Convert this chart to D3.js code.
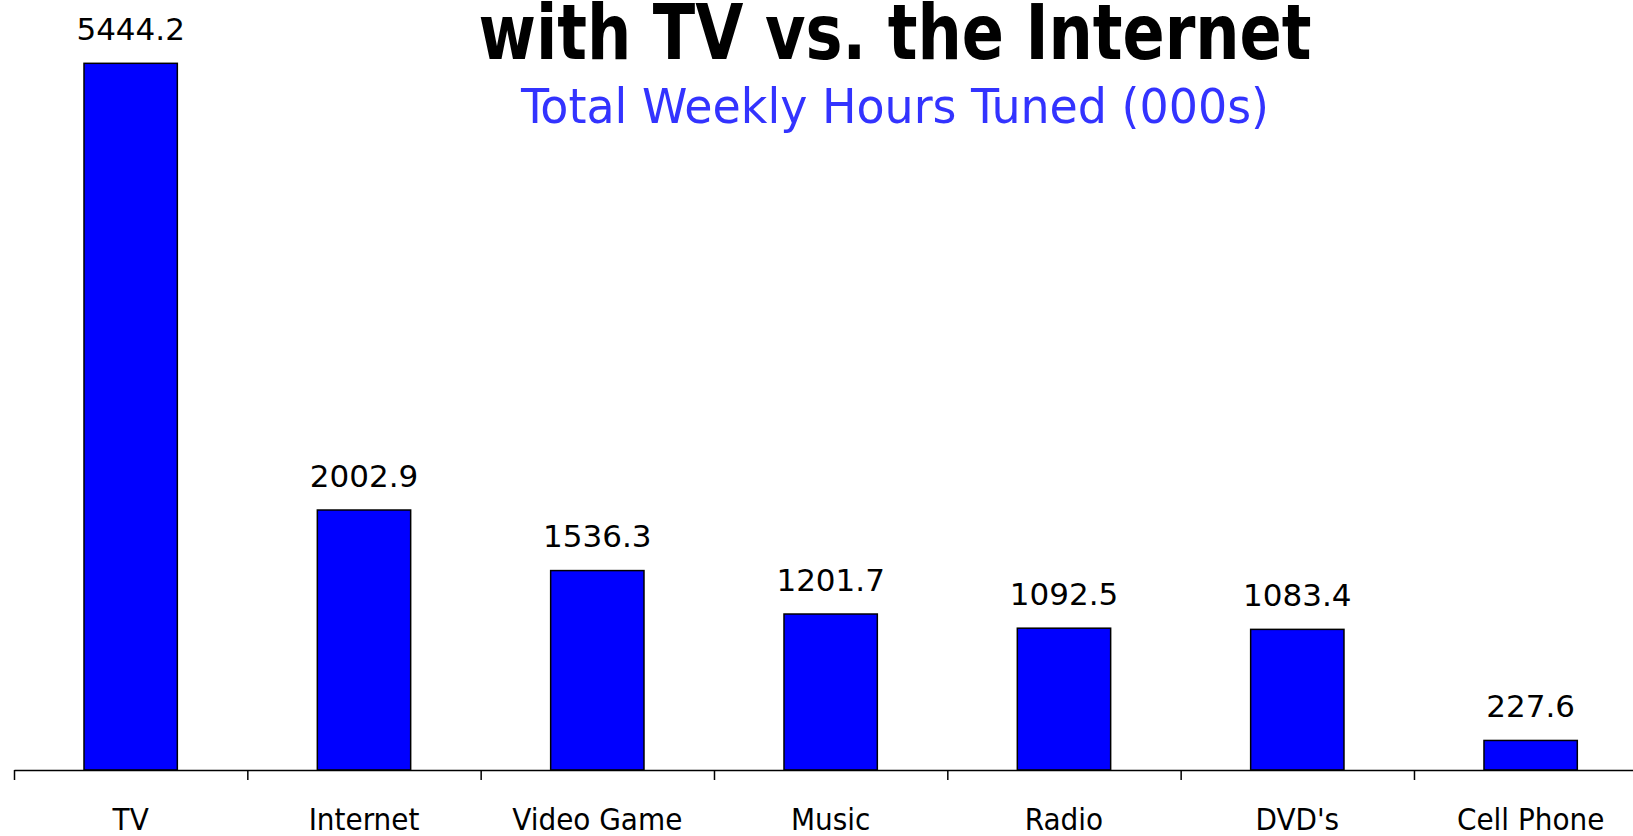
<!DOCTYPE html>
<html lang="en">
    <head>
        <meta charset="UTF-8" />
        <title>Kids' Time with TV vs. the Internet</title>
        <script src="https://d3js.org/d3.v7.min.js"></script>
        <style>
            html, body { margin: 0; padding: 0; background: #fff; overflow: hidden; }
        </style>
    </head>
    <body>
        <svg width="1633" height="836"></svg>

        <script>
            // data
            const categories = ["TV", "Internet", "Video Game", "Music", "Radio", "DVD's", "Cell Phone"];
            const hours = [5444.2, 2002.9, 1536.3, 1201.7, 1092.5, 1083.4, 227.6];
            const titleText = "with TV vs. the Internet";
            const subtitleText = "Total Weekly Hours Tuned (000s)";

            const width = 1633;
            const height = 836;
            const baseY = 770;
            const left = 14;
            const step = 233.33;

            const svg = d3.select("svg");

            const x = d3
                .scaleBand()
                .domain(categories)
                .range([left, left + step * categories.length])
                .paddingInner(0.6)
                .paddingOuter(0.3);

            const y = d3.scaleLinear().domain([0, 5932]).range([baseY, 0]);

            // title (first line is cut off at the top of the picture)
            svg.append("text")
                .attr("x", 895)
                .attr("y", 59)
                .attr("text-anchor", "middle")
                .style("font-family", "'DejaVu Sans Condensed', 'DejaVu Sans'")
                .style("font-stretch", "condensed")
                .style("font-weight", "bold")
                .style("font-size", "77px")
                .attr("textLength", 833)
                .attr("lengthAdjust", "spacingAndGlyphs")
                .attr("fill", "#000")
                .text(titleText);

            svg.append("text")
                .attr("x", 895)
                .attr("y", 123)
                .attr("text-anchor", "middle")
                .style("font-family", "'DejaVu Sans Condensed', 'DejaVu Sans'")
                .style("font-stretch", "condensed")
                .style("font-size", "48px")
                .attr("textLength", 748)
                .attr("lengthAdjust", "spacingAndGlyphs")
                .attr("fill", "#3333ff")
                .text(subtitleText);

            // bars
            svg.selectAll(".bar")
                .data(categories)
                .enter()
                .append("rect")
                .attr("class", "bar")
                .attr("x", (d) => x(d))
                .attr("y", (d, i) => y(hours[i]))
                .attr("width", x.bandwidth())
                .attr("height", (d, i) => baseY - y(hours[i]))
                .attr("fill", "#0000ff")
                .attr("stroke", "#000")
                .attr("stroke-width", 1.5);

            // value labels
            svg.selectAll(".val")
                .data(categories)
                .enter()
                .append("text")
                .attr("class", "val")
                .attr("x", (d) => x(d) + x.bandwidth() / 2)
                .attr("y", (d, i) => y(hours[i]) - 23.5)
                .attr("text-anchor", "middle")
                .style("font-family", "'DejaVu Sans'")
                .style("font-size", "31px")
                .attr("fill", "#000")
                .text((d, i) => d3.format(".1f")(hours[i]));

            // x axis: ticks sit between categories, labels centred below
            const xEdge = d3
                .scaleLinear()
                .domain([0, categories.length])
                .range([left, left + step * categories.length]);

            const axis = svg
                .append("g")
                .attr("transform", `translate(0,${baseY})`)
                .call(
                    d3
                        .axisBottom(xEdge)
                        .tickValues(d3.range(0, categories.length))
                        .tickFormat("")
                        .tickSize(10)
                        .tickSizeOuter(0)
                );
            axis.selectAll("path, line").attr("stroke", "#000").attr("stroke-width", 1.5);

            svg.selectAll(".cat")
                .data(categories)
                .enter()
                .append("text")
                .attr("class", "cat")
                .attr("x", (d) => x(d) + x.bandwidth() / 2)
                .attr("y", 830)
                .attr("text-anchor", "middle")
                .style("font-family", "'DejaVu Sans Condensed', 'DejaVu Sans'")
                .style("font-stretch", "condensed")
                .style("font-size", "31px")
                .attr("fill", "#000")
                .text((d) => d);
        </script>
    </body>
</html>
